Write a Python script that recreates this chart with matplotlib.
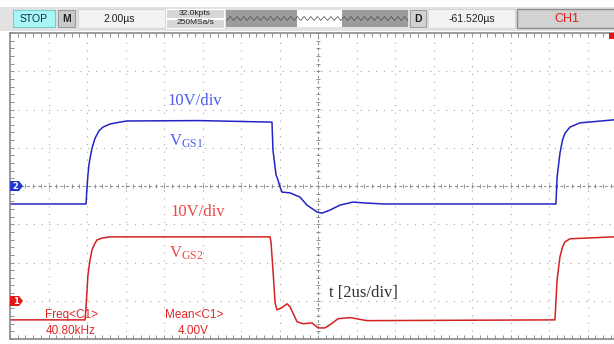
import numpy as np
import matplotlib.pyplot as plt
from matplotlib.patches import Rectangle, Polygon
from matplotlib.ticker import MultipleLocator

W, H = 614, 344

# scope settings
T_DIV = 2.0      # us/div
V_DIV = 10.0     # V/div
CH2_POS = 0.0    # ground position, divisions
CH1_POS = -3.0

# CH2 = V_GS1 (blue), time in us, volts
ch2_t = [-16.0, -12.05, -12.0, -11.95, -11.90, -11.84, -11.74, -11.58, -11.38, -11.17, -10.81,
         -10.29, -9.92, -6.13, -2.39, -2.34, -2.18, -2.08, -1.97, -1.87, -1.45, -0.94, -0.57,
         -0.05, 0.21, 0.62, 1.14, 1.82, 2.34, 3.38, 12.36, 12.42, 12.57, 12.7, 12.83, 13.09,
         13.61, 15.38, 16.0]
ch2_v = [-4.7, -4.7, -0.3, 2.9, 5.5, 7.3, 9.9, 12.5, 14.4, 15.4, 16.2,
         16.7, 17.0, 17.1, 16.7, 9.4, 2.9, 1.6, -0.3, -1.6, -1.8, -2.9, -5.0,
         -6.8, -7.1, -6.3, -5.0, -4.2, -4.4, -4.7, -4.7, 2.3, 8.6, 12.0, 13.8, 15.4,
         16.5, 17.3, 17.3]

# CH1 = V_GS2 (red)
ch1_t = [-16.0, -12.1, -12.05, -11.95, -11.84, -11.74, -11.6, -11.48, -11.2, -10.81, -2.49,
         -2.44, -2.34, -2.23, -2.13, -1.87, -1.61, -1.45, -1.09, -0.78, -0.31, 0.0, 0.36,
         0.62, 1.04, 1.66, 2.55, 12.31, 12.42, 12.57, 12.7, 12.83, 13.09, 15.38, 16.0]
ch1_v = [-5.0, -5.0, -1.6, 6.8, 10.7, 13.3, 14.9, 15.9, 16.4, 16.7, 16.7,
         15.2, 8.1, -0.5, -2.4, -1.8, -0.8, -1.6, -5.5, -6.0, -5.8, -7.1, -7.1,
         -6.3, -4.7, -4.4, -5.2, -5.0, 5.5, 11.5, 14.0, 15.4, 16.2, 16.7, 16.7]

BLUE = '#2424c4'
RED = '#d42222'
BLUE_TXT = '#4a5cf2'
RED_TXT = '#ea4848'
GRID = '#a8a8a8'

fig = plt.figure(figsize=(W / 100, H / 100), dpi=100)


def fbox(x0, y0, x1, y1):
    # pixel box (y down) -> figure fraction rect
    return [x0 / W, 1 - y1 / H, (x1 - x0) / W, (y1 - y0) / H]


# scope screen
ax = fig.add_axes(fbox(10, 33, 626, 339))
ax.set_xlim(-8 * T_DIV, 8 * T_DIV)
ax.set_ylim(-4, 4)
for k in range(-7, 8):
    if k != 0:
        ax.axvline(k * T_DIV, color=GRID, lw=0.8, ls=(0, (1, 6)))
for k in range(-3, 4):
    if k != 0:
        ax.axhline(k, color=GRID, lw=0.8, ls=(0, (1, 6)))
ax.axvline(0, color='#909090', lw=0.8, ls=(0, (2.5, 2.5)))
ax.axhline(0, color='#909090', lw=0.8, ls=(0, (2.5, 2.5)))
xm = np.arange(-8 * T_DIV, 8 * T_DIV + 0.01, T_DIV / 5)
ym = np.arange(-4, 4.01, 0.2)
ax.plot(xm, np.zeros_like(xm), ls='none', marker='|', ms=3.5, mew=0.7, color='#909090')
ax.plot(np.zeros_like(ym), ym, ls='none', marker='_', ms=3.5, mew=0.7, color='#909090')

ax.plot(ch2_t, np.array(ch2_v) / V_DIV + CH2_POS, color=BLUE, lw=1.1)
ax.plot(ch1_t, np.array(ch1_v) / V_DIV + CH1_POS, color=RED, lw=1.1)

ax.xaxis.set_major_locator(MultipleLocator(T_DIV))
ax.xaxis.set_minor_locator(MultipleLocator(T_DIV / 5))
ax.yaxis.set_major_locator(MultipleLocator(1))
ax.yaxis.set_minor_locator(MultipleLocator(0.2))
ax.tick_params(which='both', direction='in', length=3, width=0.7, color='#909090',
               top=True, right=True, labelbottom=False, labelleft=False)
for s in ax.spines.values():
    s.set_color('#8a8a8a')
    s.set_linewidth(1.2)

# overlay in pixel coordinates
ui = fig.add_axes([0, 0, 1, 1])
ui.set_xlim(0, W)
ui.set_ylim(H, 0)
ui.axis('off')

sans = 'Liberation Sans'
serif = 'Liberation Serif'

# top bar
ui.add_patch(Rectangle((0, 7), W, 24, fc='#e2e2e2', ec='none'))
ui.add_patch(Rectangle((13, 10), 42, 17, fc='#a8f6f6', ec='#78cccc', lw=0.8))
ui.text(34, 18.5, 'STOP', ha='center', va='center', fontsize=7.5, family=sans, color='#102a4c')
ui.add_patch(Rectangle((58, 10), 17, 17, fc='#cacaca', ec='#9a9a9a', lw=0.8))
ui.text(66.5, 18.5, 'M', ha='center', va='center', fontsize=7.5, family=sans,
        weight='bold', color='#202020')
ui.add_patch(Rectangle((78, 9), 87, 19, fc='#f3f3f3', ec='#d6d6d6', lw=0.8))
ui.text(119, 18.5, '2.00µs', ha='center', va='center', fontsize=7.5, family=sans, color='#202020')
ui.add_patch(Rectangle((166, 9), 58, 9, fc='#d6d6d6', ec='white', lw=0.8))
ui.add_patch(Rectangle((166, 18.5), 58, 9, fc='#d6d6d6', ec='white', lw=0.8))
ui.text(195, 13.5, '32.0kpts', ha='center', va='center', fontsize=6, family=sans, color='#202020')
ui.text(195, 23, '250MSa/s', ha='center', va='center', fontsize=6, family=sans, color='#202020')
ui.add_patch(Rectangle((226, 10), 71, 17, fc='#9c9c9c', ec='none'))
ui.add_patch(Rectangle((297, 10), 45, 17, fc='white', ec='none'))
ui.add_patch(Rectangle((342, 10), 66, 17, fc='#9c9c9c', ec='none'))
zx = np.arange(227, 408, 3.35)
zy = np.where(np.arange(len(zx)) % 2 == 0, 20.5, 16.5)
ui.plot(zx, zy, color='#4a4a4a', lw=0.5)
ui.add_patch(Rectangle((410, 10), 16, 17, fc='#d2d2d2', ec='#a0a0a0', lw=0.8))
ui.text(418, 18.5, 'D', ha='center', va='center', fontsize=7.5, family=sans,
        weight='bold', color='#202020')
ui.add_patch(Rectangle((428, 9), 87, 19, fc='#f3f3f3', ec='#d6d6d6', lw=0.8))
ui.text(472, 18.5, '-61.520µs', ha='center', va='center', fontsize=7.5, family=sans, color='#202020')
ui.add_patch(Rectangle((517, 9), 100, 19, fc='#d2d2d2', ec='#8c8c8c', lw=1))
ui.text(567, 18.5, 'CH1', ha='center', va='center', fontsize=9, family=sans, color='#e02020')
ui.text(307, 0, '(a)', ha='center', va='bottom', fontsize=9, family=serif, color='#202020')

# channel markers
ui.add_patch(Polygon([(10, 181), (19, 181), (23, 186), (19, 191), (10, 191)],
                     closed=True, fc='#2038d0', ec='none'))
ui.text(15.5, 186.5, '2', ha='center', va='center', fontsize=6, weight='bold', color='white')
ui.add_patch(Polygon([(10, 296), (19, 296), (23, 301), (19, 306), (10, 306)],
                     closed=True, fc='#e01818', ec='none'))
ui.text(15.5, 301.5, '1', ha='center', va='center', fontsize=6, weight='bold', color='white')
ui.add_patch(Rectangle((609, 33), 6, 6, fc='#e01818', ec='none'))

# annotations
ui.text(195, 101, '10V/div', ha='center', va='center', fontsize=12, family=serif, color=BLUE_TXT)
ui.text(186, 141, r'$\mathregular{V_{GS1}}$', ha='center', va='center', fontsize=12,
        family=serif, color=BLUE_TXT)
ui.text(198, 212, '10V/div', ha='center', va='center', fontsize=12, family=serif, color=RED_TXT)
ui.text(186, 253, r'$\mathregular{V_{GS2}}$', ha='center', va='center', fontsize=12,
        family=serif, color=RED_TXT)
ui.text(363, 293, 't [2us/div]', ha='center', va='center', fontsize=12, family=serif, color='#303030')

ui.text(71, 315, 'Freq<C1>', ha='center', va='center', fontsize=8.5, family=sans, color='#e02828')
ui.text(71, 331, '40.80kHz', ha='center', va='center', fontsize=8.5, family=sans, color='#e02828')
ui.text(194, 315, 'Mean<C1>', ha='center', va='center', fontsize=8.5, family=sans, color='#e02828')
ui.text(193, 331, '4.00V', ha='center', va='center', fontsize=8.5, family=sans, color='#e02828')

fig.savefig('out.png', dpi=100)
